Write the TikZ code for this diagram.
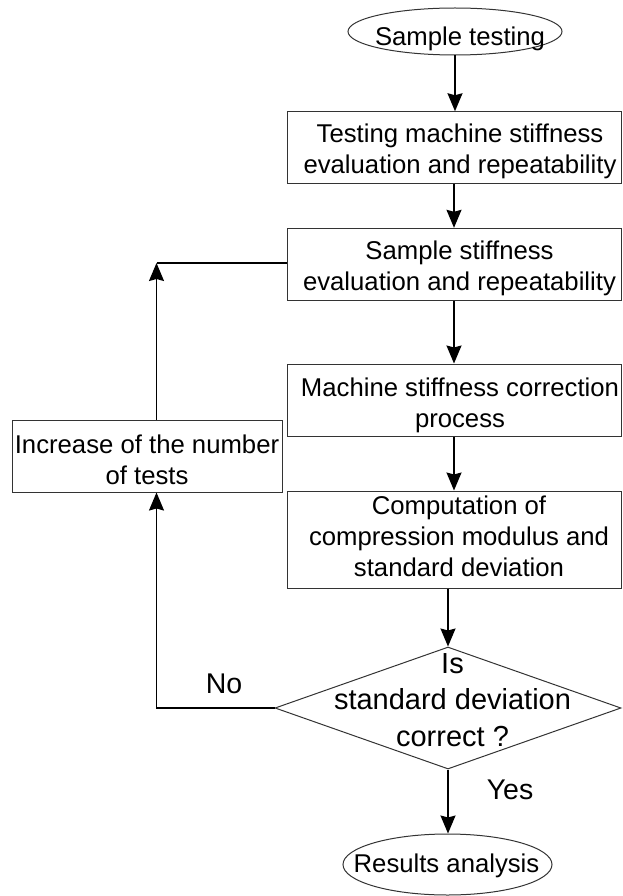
\documentclass[tikz,border=0pt]{standalone}
\usepackage{fontspec}
\setmainfont{Liberation Sans}
\usetikzlibrary{shapes.geometric,arrows.meta,calc}
\begin{document}
\begin{tikzpicture}[x=1pt,y=-1pt,
  shapebox/.style={draw=black!80, line width=1pt, rectangle, inner sep=0pt},
  term/.style={draw=black!80, line width=1pt, ellipse, inner sep=0pt},
  decision/.style={draw=black!80, line width=1pt, diamond, inner sep=0pt},
  txt/.style={align=center, font=\fontsize{25.7}{31}\selectfont, inner sep=0pt, text depth=0pt},
  bigtxt/.style={align=center, font=\fontsize{29}{36.5}\selectfont, inner sep=0pt, text depth=0pt},
  lbl/.style={font=\fontsize{28.5}{34}\selectfont, inner sep=0pt, text depth=0pt},
  conn/.style={line width=1.5pt, -{Stealth[length=18pt,width=15pt,inset=2pt]}},
  plainline/.style={line width=1.5pt}]
\useasboundingbox (0,0) rectangle (622,896);

% shapes
\node[term, minimum width=214, minimum height=47] (start) at (455,31.5) {};
\node[txt] (startT) at (460,36) {Sample testing};

\node[shapebox, minimum width=334, minimum height=71.5] (b1) at (454,147.5) {};
\node[txt] (b1T) at (460,149) {Testing machine stiffness\\evaluation and repeatability};

\node[shapebox, minimum width=334, minimum height=72.4] (b2) at (454,264.5) {};
\node[txt] (b2T) at (459.5,265.8) {Sample stiffness\\evaluation and repeatability};

\node[shapebox, minimum width=334, minimum height=72] (b3) at (454,400) {};
\node[txt] (b3T) at (460,403) {Machine stiffness correction\\process};

\node[shapebox, minimum width=334, minimum height=97] (b4) at (454,539.5) {};
\node[txt] (b4T) at (459,536) {Computation of\\compression modulus and\\standard deviation};

\node[shapebox, minimum width=270, minimum height=72] (inc) at (147,456) {};
\node[txt] (incT) at (147,460) {Increase of the number\\of tests};

\node[decision, minimum width=346, minimum height=122] (dia) at (448,708) {};
\node[bigtxt] (diaT) at (452.5,700) {Is\\standard deviation\\correct ?};

\node[term, minimum width=209, minimum height=61] (res) at (447.5,864.5) {};
\node[txt] (resT) at (446.5,863) {Results analysis};

% labels
\node[lbl] (no) at (224,684) {No};
\node[lbl] (yes) at (510,790) {Yes};

% connectors
\draw[conn] (start.south) -- (start.south |- b1.north);
\draw[conn] (b1.south) -- (b2.north);
\draw[conn] (b2.south) -- (b3.north);
\draw[conn] (b3.south) -- (b4.north);
\draw[conn] (b4.south -| dia.north) -- (dia.north);
\draw[conn] (dia.south) -- (dia.south |- res.north);

\coordinate (up) at (156.5,263);
\draw[conn] (dia.west) -- (dia.west -| up) -- (up |- inc.south);
\draw[conn] (up |- inc.north) -- (up);
\draw[plainline] (up) -- (up -| b2.west);
\end{tikzpicture}
\end{document}
